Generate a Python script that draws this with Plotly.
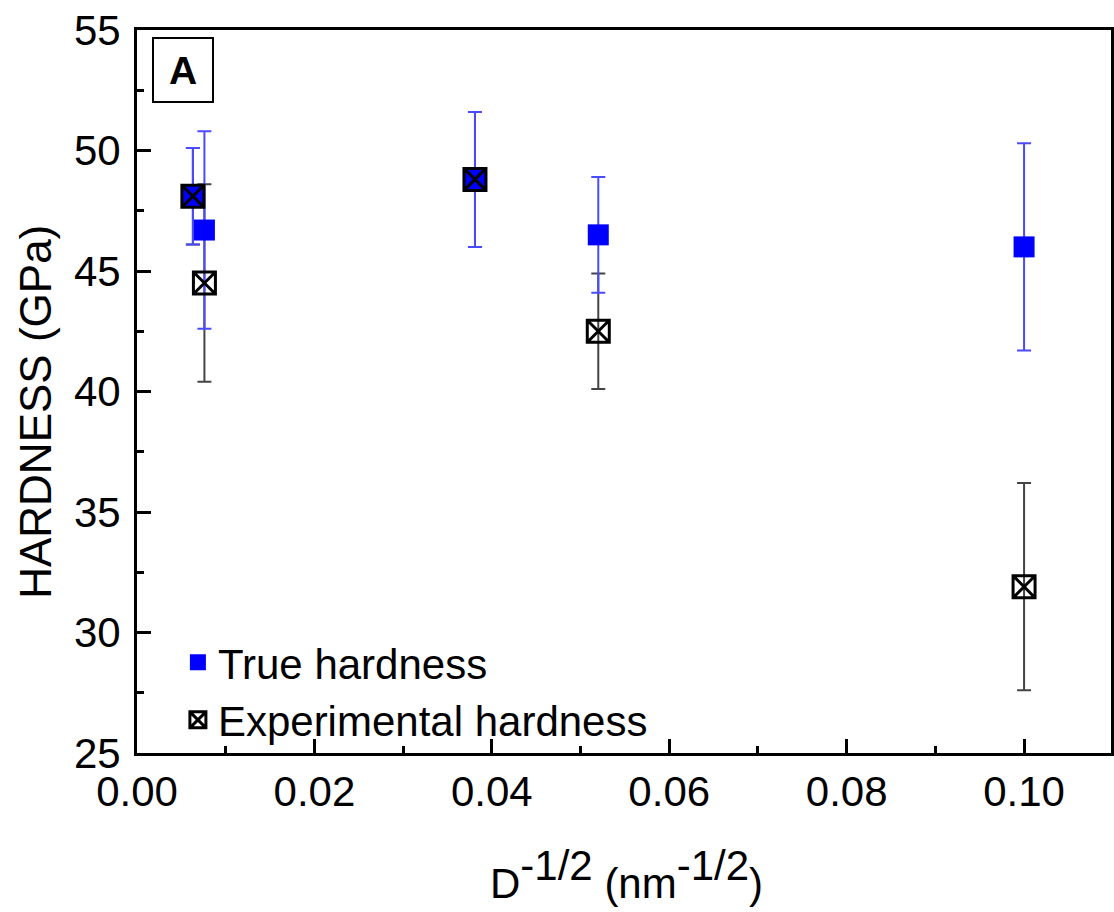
import plotly.graph_objects as go

# Data
x_vals = [0.0063, 0.0076, 0.0381, 0.0520, 0.1000]
true_hardness = [48.1, 46.7, 48.8, 46.5, 46.0]
true_err = [2.0, 4.1, 2.8, 2.4, 4.3]
exp_hardness = [48.1, 44.5, 48.8, 42.5, 31.9]
exp_err = [2.0, 4.1, 2.8, 2.4, 4.3]

x_title = "D<sup><span style='font-size:42px'>-1/2</span></sup> (nm<sup><span style='font-size:42px'>-1/2</span></sup>)"
y_title = "HARDNESS (GPa)"

FONT = "Liberation Sans, Arial, sans-serif"

fig = go.Figure()

# experimental error bars (drawn first, under the blue markers)
fig.add_trace(go.Scatter(
    x=x_vals, y=exp_hardness, mode="markers",
    marker=dict(size=1, color="rgba(0,0,0,0)"),
    error_y=dict(type="data", array=exp_err, visible=True, color="#444444",
                 thickness=2, width=7),
    showlegend=False, hoverinfo="skip"))

# true hardness
fig.add_trace(go.Scatter(
    x=x_vals, y=true_hardness, mode="markers", name="True hardness",
    marker=dict(symbol="square", size=21, color="#0000ff",
                line=dict(width=0)),
    error_y=dict(type="data", array=true_err, visible=True, color="#4a4aff",
                 thickness=2, width=7)))

# experimental markers on top
fig.add_trace(go.Scatter(
    x=x_vals, y=exp_hardness, mode="markers", name="Experimental hardness",
    marker=dict(symbol="square-x-open", size=22, color="black",
                line=dict(width=3, color="black"))))

fig.update_layout(
    width=1114, height=912,
    margin=dict(l=137, r=0, t=30, b=159),
    paper_bgcolor="white", plot_bgcolor="white",
    font=dict(family=FONT, size=42, color="black"),
    showlegend=True,
    legend=dict(x=0.042, y=-0.002, xanchor="left", yanchor="bottom",
                bgcolor="rgba(0,0,0,0)", font=dict(size=42, family=FONT),
                itemwidth=30, tracegroupgap=0),
    annotations=[
        dict(text="<b>A</b>", xref="paper", yref="paper", x=0.0154, y=0.99,
             xanchor="left", yanchor="top", showarrow=False,
             font=dict(size=39, family=FONT, color="black"),
             width=58, height=62, borderpad=0, bordercolor="black",
             borderwidth=2, bgcolor="white", align="center", valign="middle"),
        dict(text=x_title, xref="paper", yref="paper",
             x=(628 - 137) / 977, y=-(899 - 753) / 723,
             xanchor="center", yanchor="bottom", yshift=-10, showarrow=False,
             font=dict(size=42, family=FONT, color="black")),
        dict(text=y_title, xref="paper", yref="paper",
             x=-(137 - 35) / 977, y=0.5, yshift=-20, textangle=-90,
             xanchor="center", yanchor="middle", showarrow=False,
             font=dict(size=44, family=FONT, color="black")),
    ],
)

fig.update_xaxes(
    range=[0, 0.1098], dtick=0.02, tick0=0, tickformat=".2f",
    ticks="inside", ticklen=14, tickwidth=3, tickcolor="black",
    minor=dict(dtick=0.01, ticks="inside", ticklen=7, tickwidth=3, tickcolor="black"),
    showline=True, linewidth=3, linecolor="black", mirror=True,
    showgrid=False, zeroline=False,
    tickfont=dict(size=42, family=FONT))

fig.update_yaxes(
    range=[25, 55], dtick=5, tick0=25,
    ticks="inside", ticklen=14, tickwidth=3, tickcolor="black",
    minor=dict(dtick=2.5, ticks="inside", ticklen=7, tickwidth=3, tickcolor="black"),
    showline=True, linewidth=3, linecolor="black", mirror=True,
    showgrid=False, zeroline=False, ticklabelstandoff=5,
    tickfont=dict(size=42, family=FONT))

fig.write_html("out.html")
